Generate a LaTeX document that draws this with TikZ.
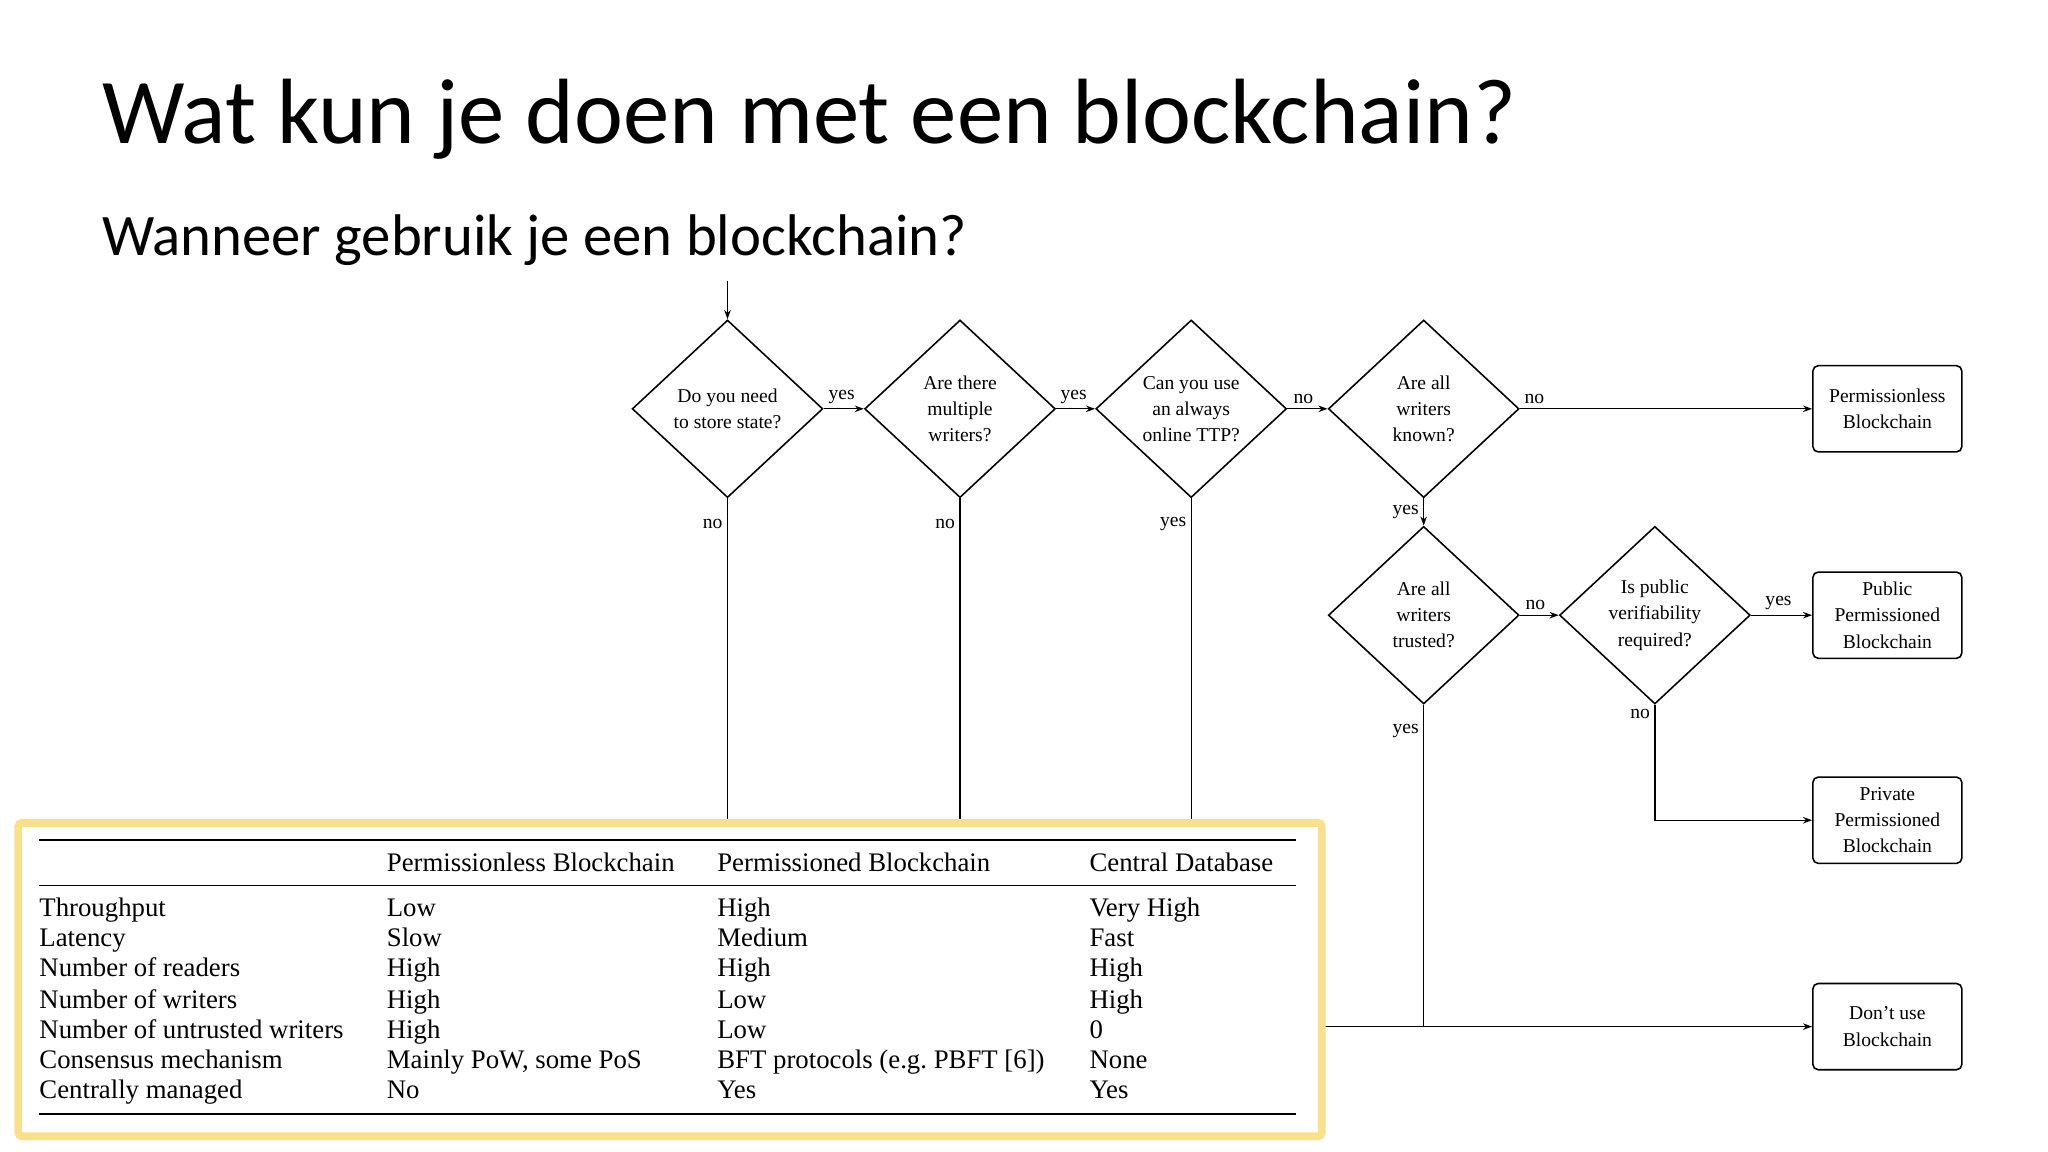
\documentclass[tikz,border=0pt]{standalone}
\usepackage{fontspec}
\setmainfont{Liberation Serif}
\newfontfamily\titlefont{Carlito}
\usetikzlibrary{shapes.geometric,arrows.meta}
\begin{document}
\begin{tikzpicture}[x=1pt,y=-1pt,
  dia/.style={draw,line width=1.2pt,diamond,minimum width=146pt,minimum height=136pt,inner sep=0pt,align=center,font=\fontsize{15}{20}\selectfont},
  term/.style={draw,line width=1.2pt,rounded corners=4pt,minimum width=114pt,minimum height=66pt,align=center,font=\fontsize{15}{20}\selectfont},
  arr/.style={-{Stealth[length=7pt,width=5pt]},line width=1pt},
  ln/.style={line width=1pt},
  lab/.style={font=\fontsize{15}{18}\selectfont},
  tc/.style={anchor=base west,font=\fontsize{20.5}{24}\selectfont}]
\useasboundingbox (0,0) rectangle (1568,882);
\fill[white] (0,0) rectangle (1568,882);
\node[anchor=base west,inner sep=0pt,font=\titlefont\fontsize{71}{75}\selectfont] (title) at (78,110) {Wat kun je doen met een blockchain?};
\node[anchor=base west,inner sep=0pt,font=\titlefont\fontsize{45}{48}\selectfont] (sub) at (78,196) {Wanneer gebruik je een blockchain?};
\node[dia] (d1) at (557,313) {Do you need\\to store state?};
\node[dia] (d2) at (735,313) {Are there\\multiple\\writers?};
\node[dia] (d3) at (912,313) {Can you use\\an always\\online TTP?};
\node[dia] (d4) at (1090,313) {Are all\\writers\\known?};
\node[dia] (d5) at (1090,471) {Are all\\writers\\trusted?};
\node[dia] (d6) at (1267,471) {Is public\\verifiability\\required?};
\node[term] (t1) at (1445,313) {Permissionless\\Blockchain};
\node[term] (t2) at (1445,471) {Public\\Permissioned\\Blockchain};
\node[term] (t3) at (1445,628) {Private\\Permissioned\\Blockchain};
\node[term] (t4) at (1445,786) {Don't use\\Blockchain};
\coordinate (start) at (557,215);
\draw[arr] (start) -- (d1.north);
\draw[arr] (d1.east) -- node[lab,above,pos=0.45]{yes} (d2.west);
\draw[arr] (d2.east) -- node[lab,above,pos=0.45]{yes} (d3.west);
\draw[arr] (d3.east) -- node[lab,above,pos=0.4]{no} (d4.west);
\draw[arr] (d4.east) -- node[lab,above,pos=0.05]{no} (t1.west);
\draw[arr] (d4.south) -- node[lab,left]{yes} (d5.north);
\draw[arr] (d5.east) -- node[lab,above,pos=0.4]{no} (d6.west);
\draw[arr] (d6.east) -- node[lab,above,pos=0.45]{yes} (t2.west);
\draw[arr] (d6.south) -- node[lab,pos=0.08,left]{no} (d6.south |- t3.west) -- (t3.west);
\coordinate (j5) at (1090,786);
\draw[ln] (d5.south) -- node[lab,pos=0.08,left]{yes} (j5);
\coordinate (tr) at (1012,786);
\draw[arr] (tr) -- (t4.west);
\coordinate (b1) at (557,630); \coordinate (b2) at (735,630); \coordinate (b3) at (912,630);
\draw[ln] (d1.south) -- node[lab,pos=0.08,left]{no} (b1);
\draw[ln] (d2.south) -- node[lab,pos=0.08,left]{no} (b2);
\draw[ln] (d3.south) -- node[lab,pos=0.08,left]{yes} (b3);
% table
\draw[line width=6pt,color={rgb,255:red,249;green,224;blue,140},fill=white,rounded corners=3pt] (14,630) rectangle (1012,870);
\draw[line width=1.6pt] (30,643) -- (992,643);
\draw[line width=0.8pt] (30,678) -- (992,678);
\draw[line width=1.6pt] (30,853) -- (992,853);
\node[tc,inner sep=0pt] (h1) at (296,667) {Permissionless Blockchain};
\node[tc,inner sep=0pt] (h2) at (549,667) {Permissioned Blockchain};
\node[tc,inner sep=0pt] (h3) at (834,667) {Central Database};
\foreach \y/\a/\b/\c/\d in {702/Throughput/Low/High/Very High,725/Latency/Slow/Medium/Fast,748/Number of readers/High/High/High,772/Number of writers/High/Low/High,795/Number of untrusted writers/High/Low/0,818/Consensus mechanism/{Mainly PoW, some PoS}/{BFT protocols (e.g.\ PBFT [6])}/None,841/Centrally managed/No/Yes/Yes}{
  \node[tc,inner sep=0pt] at (30,\y) {\a};
  \node[tc,inner sep=0pt] at (296,\y) {\b};
  \node[tc,inner sep=0pt] at (549,\y) {\c};
  \node[tc,inner sep=0pt] at (834,\y) {\d};
}
\end{tikzpicture}
\end{document}
